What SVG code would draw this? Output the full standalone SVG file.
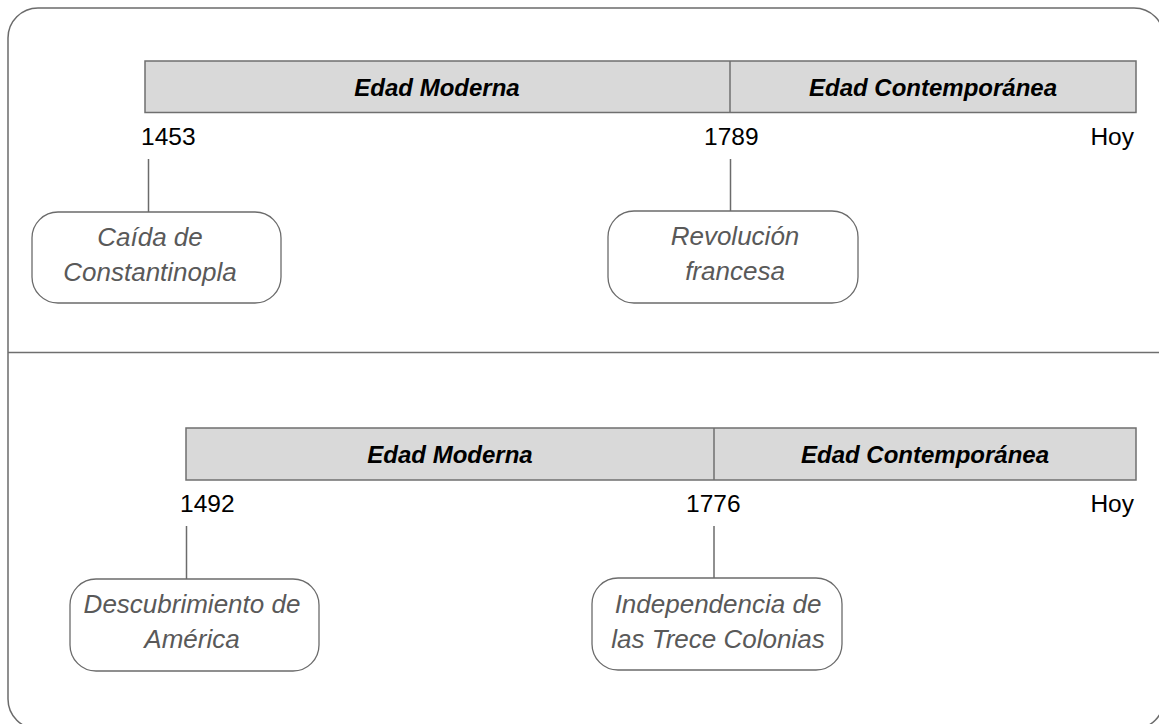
<svg xmlns="http://www.w3.org/2000/svg" width="1159" height="724" viewBox="0 0 1159 724">
<style>
.frame{fill:#fff;stroke:#6b6b6b;stroke-width:1.5}
.bar{fill:#d9d9d9;stroke:#6f6f6f;stroke-width:1.5}
.sep{stroke:#6f6f6f;stroke-width:1.5}
.tick{stroke:#6b6b6b;stroke-width:1.5;fill:none}
.box{fill:#fff;stroke:#6b6b6b;stroke-width:1.3}
.era{font-family:"Liberation Sans",Arial,sans-serif;font-size:24px;font-weight:bold;font-style:italic;fill:#000;text-anchor:middle}
.year{font-family:"Liberation Sans",Arial,sans-serif;font-size:24.5px;fill:#000}
.ev{font-family:"Liberation Sans",Arial,sans-serif;font-size:26px;font-style:italic;fill:#595959;text-anchor:middle}
</style>
<rect class="frame" x="8" y="8" width="1156" height="721" rx="30"/>
<line class="sep" x1="8" y1="352.5" x2="1164" y2="352.5" stroke="#808080"/>

<g id="timeline1">
  <rect class="bar" x="145" y="61" width="991" height="51.5"/>
  <line class="sep" x1="730" y1="61" x2="730" y2="112.5"/>
  <text class="era" x="437" y="96">Edad Moderna</text>
  <text class="era" x="933" y="96">Edad Contemporánea</text>
  <text class="year" x="141" y="145">1453</text>
  <text class="year" x="704" y="145">1789</text>
  <text class="year" x="1134" y="145" text-anchor="end">Hoy</text>
</g>

<g id="timeline2">
  <rect class="bar" x="186" y="428" width="950" height="52"/>
  <line class="sep" x1="714" y1="428" x2="714" y2="480"/>
  <text class="era" x="450" y="463">Edad Moderna</text>
  <text class="era" x="925" y="463">Edad Contemporánea</text>
  <text class="year" x="180" y="512">1492</text>
  <text class="year" x="686" y="512">1776</text>
  <text class="year" x="1134" y="512" text-anchor="end">Hoy</text>
</g>

<g id="connectors">
  <line class="tick" x1="148.5" y1="159" x2="148.5" y2="212"/>
  <line class="tick" x1="730.5" y1="159" x2="730.5" y2="211"/>
  <line class="tick" x1="186.5" y1="526" x2="186.5" y2="579"/>
  <line class="tick" x1="714" y1="526" x2="714" y2="578"/>
</g>

<g id="caida">
  <rect class="box" x="32" y="212" width="249" height="91" rx="26"/>
  <text class="ev" x="150" y="246">Caída de</text>
  <text class="ev" x="150" y="281">Constantinopla</text>
</g>

<g id="revolucion">
  <rect class="box" x="608" y="211" width="250" height="92" rx="26"/>
  <text class="ev" x="735" y="245">Revolución</text>
  <text class="ev" x="735" y="280">francesa</text>
</g>

<g id="descubrimiento">
  <rect class="box" x="70" y="579" width="249" height="92" rx="26"/>
  <text class="ev" x="192" y="613">Descubrimiento de</text>
  <text class="ev" x="192" y="648">América</text>
</g>

<g id="independencia">
  <rect class="box" x="592" y="578" width="250" height="92" rx="26"/>
  <text class="ev" x="718" y="613">Independencia de</text>
  <text class="ev" x="718" y="648">las Trece Colonias</text>
</g>
</svg>
